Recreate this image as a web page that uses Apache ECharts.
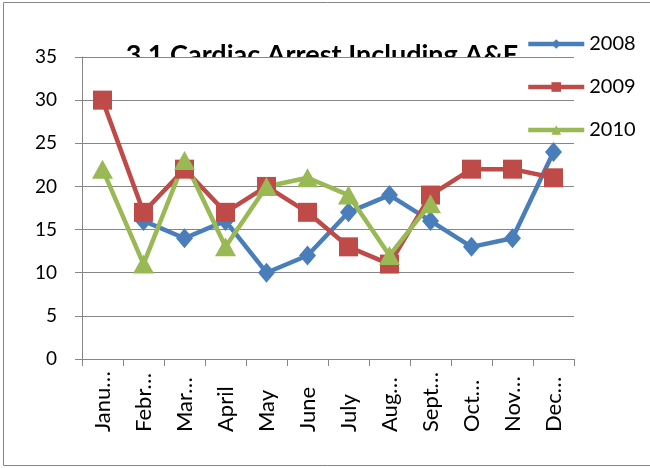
<!DOCTYPE html>
<html lang="en">
<head>
    <meta charset="UTF-8">
    <title>3.1 Cardiac Arrest Including A&amp;E</title>
    <script type="text/javascript" src="https://cdn.jsdelivr.net/npm/echarts@6/dist/echarts.min.js"></script>
    <style>
        html, body { margin: 0; padding: 0; background: #fff; }
    </style>
</head>
<body>
<div id="main" style="width: 650px;height:468px;"></div>
<script type="text/javascript">
    // month labels as they appear (truncated) on the axis
    var months = ['Janu…', 'Febr…', 'Mar…', 'April', 'May', 'June', 'July', 'Aug…', 'Sept…', 'Oct…', 'Nov…', 'Dec…'];
    var data2008 = [null, 16, 14, 16, 10, 12, 17, 19, 16, 13, 14, 24];
    var data2009 = [30, 17, 22, 17, 20, 17, 13, 11, 19, 22, 22, 21];
    var data2010 = [22, 11, 23, 13, 20, 21, 19, 12, 18, null, null, null];
    var yTicks = [0, 5, 10, 15, 20, 25, 30, 35];

    var font = 'Lato, "Open Sans", sans-serif';
    var gray = '#868686';

    var option = {
        backgroundColor: '#fff',
        animation: false,
        textStyle: { fontFamily: font, color: '#000' },
        graphic: [
            {
                // chart border
                type: 'rect',
                z: -3,
                shape: { x: 3.5, y: 2.5, width: 660, height: 463 },
                style: { fill: '#fff', stroke: gray, lineWidth: 1 }
            },
            {
                // title, lower part hidden by the plot area
                type: 'text',
                z: -2,
                x: 322,
                y: 55,
                style: {
                    text: '3.1 Cardiac Arrest Including A&E',
                    fontFamily: font,
                    fontWeight: 'bold',
                    fontSize: 27,
                    fill: '#000',
                    align: 'center',
                    verticalAlign: 'middle'
                }
            },
            {
                type: 'rect',
                z: -1,
                shape: { x: 82, y: 57, width: 492, height: 40 },
                style: { fill: '#fff' }
            }
        ],
        legend: {
            orient: 'vertical',
            left: 521,
            top: 29,
            itemWidth: 56,
            itemHeight: 12,
            itemGap: 23,
            lineStyle: { width: 4.5 },
            textStyle: { fontFamily: font, fontSize: 20, color: '#000' },
            data: ['2008', '2009', '2010']
        },
        grid: {
            left: 82,
            right: 76,
            top: 57,
            bottom: 109
        },
        xAxis: {
            type: 'category',
            data: months,
            axisLine: { lineStyle: { color: gray, width: 1 } },
            axisTick: { show: true, length: 7, lineStyle: { color: gray } },
            axisLabel: {
                rotate: 90,
                align: 'left',
                margin: 73,
                fontFamily: font,
                fontSize: 22,
                color: '#000',
                interval: 0
            }
        },
        yAxis: {
            type: 'value',
            min: yTicks[0],
            max: yTicks[yTicks.length - 1],
            interval: 5,
            axisLine: { show: true, lineStyle: { color: gray, width: 1 } },
            axisTick: { show: true, length: 7, lineStyle: { color: gray } },
            splitLine: { lineStyle: { color: gray, width: 1 } },
            axisLabel: { margin: 25, fontFamily: font, fontSize: 19, color: '#000' }
        },
        series: [
            {
                name: '2008',
                type: 'line',
                data: data2008,
                symbol: 'diamond',
                symbolSize: [17, 20],
                color: '#4A7EBB',
                lineStyle: { width: 4.5 },
                connectNulls: false
            },
            {
                name: '2009',
                type: 'line',
                data: data2009,
                symbol: 'rect',
                symbolSize: 19,
                color: '#BE4B48',
                lineStyle: { width: 4.5 }
            },
            {
                name: '2010',
                type: 'line',
                data: data2010,
                symbol: 'triangle',
                symbolSize: [21, 19],
                color: '#98B954',
                lineStyle: { width: 4.5 }
            }
        ]
    };

    var myChart = echarts.init(document.getElementById('main'));
    myChart.setOption(option);
</script>
</body>
</html>
